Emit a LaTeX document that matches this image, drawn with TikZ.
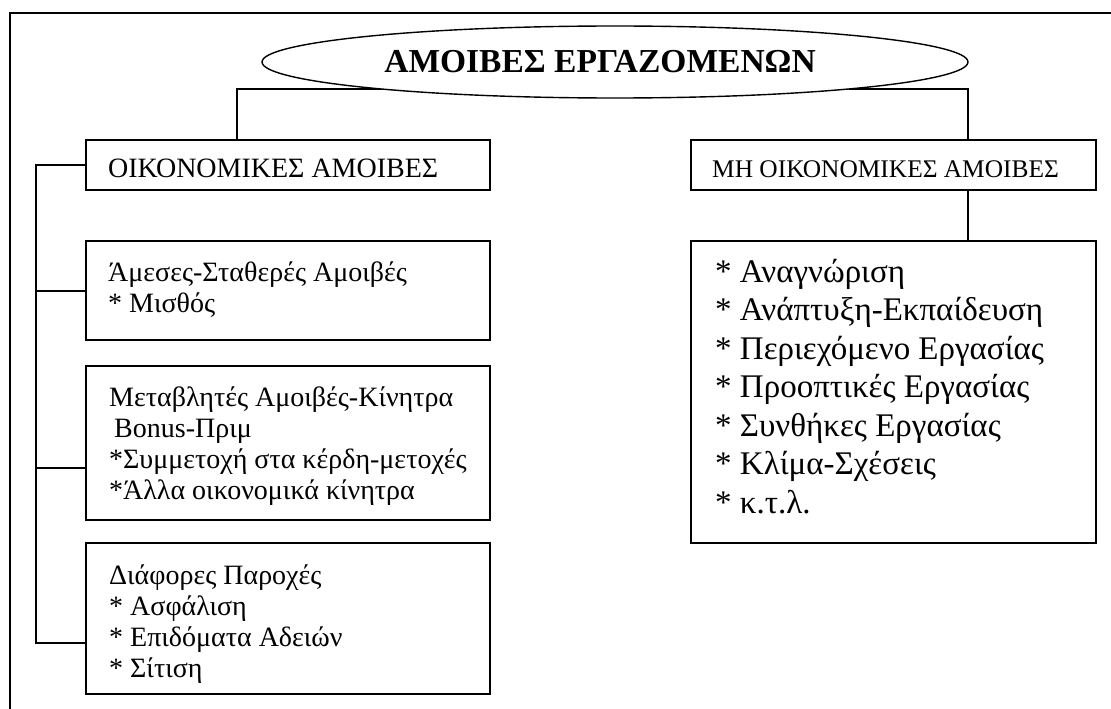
\documentclass[tikz,border=0pt]{standalone}
\usepackage{fontspec}
\setmainfont{Liberation Serif}
\usetikzlibrary{shapes.geometric}
\newcommand\myTitleFont{\fontsize{33.5}{38}\selectfont\bfseries}
\newcommand\myHdrA{\fontsize{28}{32}\selectfont}
\newcommand\myHdrB{\fontsize{25.4}{30}\selectfont}
\newcommand\myBoxFont{\fontsize{28}{31}\selectfont}
\newcommand\myListFont{\fontsize{33}{38.5}\selectfont}
\begin{document}
\begin{tikzpicture}[x=1pt,y=-1pt,
  box/.style={draw, line width=1.4pt, rectangle, inner sep=0pt, outer sep=0pt, anchor=north west},
  conn/.style={line width=1.4pt},
  txt/.style={anchor=base west, inner sep=0pt, align=left}]
\useasboundingbox[fill=white] (0,0) rectangle (1111,709);

% outer frame
\draw[line width=2.2pt] (1111,13) -- (10,13) -- (10,709);

% boxes
\node[box, minimum width=404pt, minimum height=50pt] (oik) at (86,140) {};
\node[box, minimum width=405pt, minimum height=50pt] (mh) at (691,140) {};
\node[box, minimum width=404pt, minimum height=99pt] (b1) at (86,241) {};
\node[box, minimum width=404pt, minimum height=154pt] (b2) at (86,366) {};
\node[box, minimum width=404pt, minimum height=151pt] (b3) at (86,543) {};
\node[box, minimum width=405pt, minimum height=302pt] (lst) at (691,241) {};

% connector points
\coordinate (jl) at (237,89);
\coordinate (jr) at (968,89);
\coordinate (bus) at (36,165);
\coordinate (e1) at (86,291);
\coordinate (e2) at (86,468);
\coordinate (e3) at (86,643);

\draw[conn] (oik.north west -| jl) -- (jl) -- (jr) -- (mh.north west -| jr);
\draw[conn] (mh.south west -| jr) -- (lst.north west -| jr);
\draw[conn] (oik.west) -- (oik.west -| bus) |- (e3);
\draw[conn] (e1 -| bus) -- (e1);
\draw[conn] (e2 -| bus) -- (e2);

% title ellipse
\node[draw, ellipse, fill=white, line width=1.4pt, minimum width=706pt, minimum height=72pt, inner sep=0pt] (ell) at (615,62) {};
\node[anchor=base, inner sep=0pt, font=\myTitleFont] (title) at (600,73) {ΑΜΟΙΒΕΣ ΕΡΓΑΖΟΜΕΝΩΝ};

% texts (base anchor = baseline of the last line)
\node[txt, font=\myHdrA] (toik) at (108,177) {ΟΙΚΟΝΟΜΙΚΕΣ ΑΜΟΙΒΕΣ};
\node[txt, font=\myHdrB] (tmh) at (712,177) {ΜΗ ΟΙΚΟΝΟΜΙΚΕΣ ΑΜΟΙΒΕΣ};
\node[txt, font=\myBoxFont] (tb1) at (108,312) {Άμεσες-Σταθερές Αμοιβές\\* Μισθός};
\node[txt, font=\myBoxFont] (tb2) at (109,499) {Μεταβλητές Αμοιβές-Κίνητρα\\\hspace*{5pt}Bonus-Πριμ\\*Συμμετοχή στα κέρδη-μετοχές\\*Άλλα οικονομικά κίνητρα};
\node[txt, font=\myBoxFont] (tb3) at (109,677) {Διάφορες Παροχές\\* Ασφάλιση\\* Επιδόματα Αδειών\\* Σίτιση};
\node[txt, font=\myListFont] (tlst) at (715,513) {* Αναγνώριση\\* Ανάπτυξη-Εκπαίδευση\\* Περιεχόμενο Εργασίας\\* Προοπτικές Εργασίας\\* Συνθήκες Εργασίας\\* Κλίμα-Σχέσεις\\* κ.τ.λ.};
\end{tikzpicture}
\end{document}
